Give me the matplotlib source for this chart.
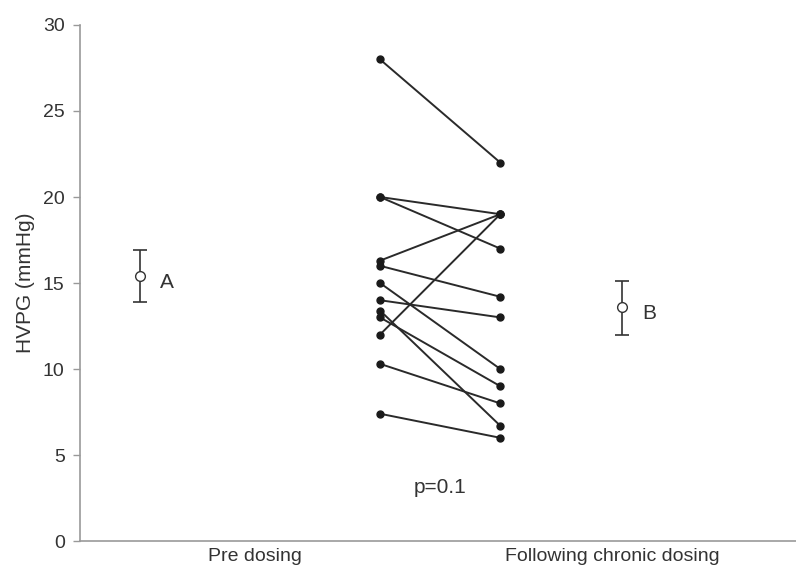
import numpy as np
import matplotlib
matplotlib.use("Agg")
import matplotlib.pyplot as plt

plt.rcParams['font.family'] = ['Liberation Sans', 'DejaVu Sans']

# Individual subjects: HVPG before and after chronic dosing (mmHg)
pre_values = [28.0, 20.0, 20.0, 16.3, 16.0, 15.0, 14.0, 13.4, 13.0, 12.0, 10.3, 7.4]
post_values = [22.0, 19.0, 17.0, 19.0, 14.2, 10.0, 13.0, 6.7, 9.0, 19.0, 8.0, 6.0]

# Group summary (mean with error bars)
summary_labels = ['A', 'B']
summary_means = [15.4, 13.6]
summary_lower = [13.9, 12.0]
summary_upper = [16.9, 15.1]

category_labels = ['Pre dosing', 'Following chronic dosing']
y_ticks = [0, 5, 10, 15, 20, 25, 30]
p_text = 'p=0.1'

# x positions in axis units (0..1 across the plot)
x_pre, x_post = 0.419, 0.587
x_summary = [0.084, 0.757]
x_categories = [0.244, 0.744]

text_color = '#333333'
axis_color = '#999999'

fig = plt.figure(figsize=(7.96, 5.68), dpi=100)
ax = fig.add_axes([0.1005, 0.0475, 0.8995, 0.9085])

# Paired lines
for pre, post in zip(pre_values, post_values):
    ax.plot([x_pre, x_post], [pre, post], color='#2a2a2a', lw=1.4,
            marker='o', markersize=5, markerfacecolor='#1a1a1a',
            markeredgecolor='#1a1a1a', solid_capstyle='round', zorder=3)

# Mean +/- error
for x, m, lo, hi, lab in zip(x_summary, summary_means, summary_lower,
                              summary_upper, summary_labels):
    ax.errorbar([x], [m], yerr=[[m - lo], [hi - m]], fmt='o', color='#333333',
                markerfacecolor='white', markeredgecolor='#333333', markersize=7,
                elinewidth=1.2, capsize=5, capthick=1.2, zorder=3)
    ax.text(x + 0.028, m - 0.35, lab, fontsize=15, color=text_color,
            ha='left', va='center')

ax.text((x_pre + x_post) / 2, 3.1, p_text, fontsize=15, color=text_color,
        ha='center', va='center')

ax.set_xlim(0, 1)
ax.set_ylim(0, 30)
ax.set_yticks(y_ticks)
ax.set_yticklabels([str(t) for t in y_ticks], fontsize=14, color=text_color)
ax.set_xticks(x_categories)
ax.set_xticklabels(category_labels, fontsize=14, color=text_color)
ax.tick_params(axis='x', length=0, pad=5)
ax.tick_params(axis='y', length=5, width=1, color=axis_color, pad=6)
ax.set_ylabel('HVPG (mmHg)', fontsize=15, color=text_color, labelpad=6)

for side in ['top', 'right']:
    ax.spines[side].set_visible(False)
for side in ['left', 'bottom']:
    ax.spines[side].set_color(axis_color)
    ax.spines[side].set_linewidth(1.2)

fig.savefig('out.png', dpi=100)
